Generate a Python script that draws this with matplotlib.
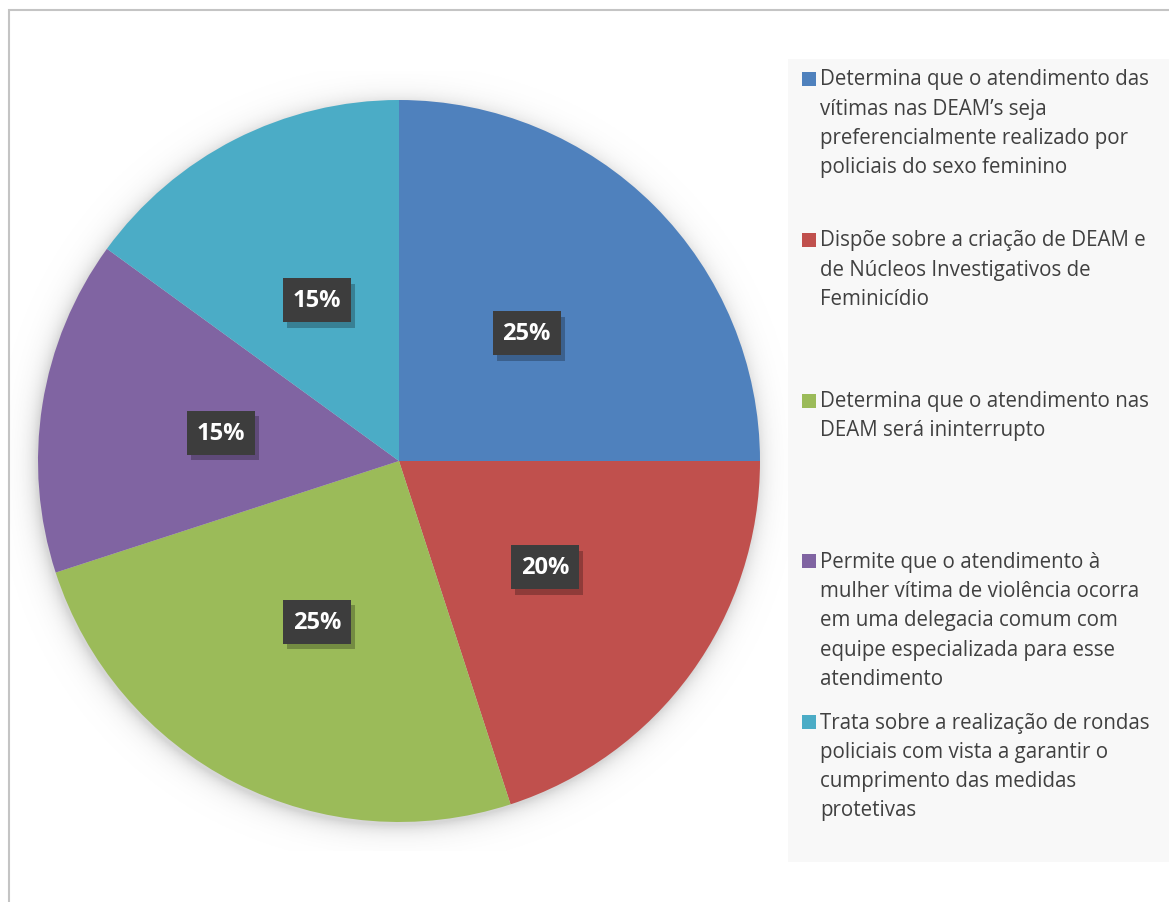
import numpy as np
import matplotlib.pyplot as plt
import matplotlib.patheffects as pe
from matplotlib.patches import Rectangle

plt.rcParams['font.family'] = ['Open Sans', 'DejaVu Sans']

labels = [
    "Determina que o atendimento das\nvítimas nas DEAM’s seja\npreferencialmente realizado por\npoliciais do sexo feminino",
    "Dispõe sobre a criação de DEAM e\nde Núcleos Investigativos de\nFeminicídio",
    "Determina que o atendimento nas\nDEAM será ininterrupto",
    "Permite que o atendimento à\nmulher vítima de violência ocorra\nem uma delegacia comum com\nequipe especializada para esse\natendimento",
    "Trata sobre a realização de rondas\npoliciais com vista a garantir o\ncumprimento das medidas\nprotetivas",
]
values = [25, 20, 25, 15, 15]
colors = ['#4F81BD', '#C0504D', '#9BBB59', '#8064A2', '#4BACC6']

W, H = 1169, 903
fig = plt.figure(figsize=(W / 100, H / 100), dpi=100)

# outer chart frame
fig.patches.append(Rectangle((8.5 / W, -0.01), 1.1, 1 - 11 / H + 0.01,
                             transform=fig.transFigure, fill=False,
                             edgecolor='#c4c4c4', linewidth=1.5))

# legend panel
fig.patches.append(Rectangle((788 / W, 1 - 863 / H), 1 - 788 / W, (863 - 60) / H,
                             transform=fig.transFigure, facecolor='#f8f8f8',
                             edgecolor='none', zorder=0))

cx, cy, R = 399, 462, 361
lim = 1.08
half = R * lim
ax = fig.add_axes([(cx - half) / W, (H - cy - half) / H, 2 * half / W, 2 * half / H])
ax.axis('off')

# soft shadow around the pie
g = np.linspace(-lim, lim, 600)
xx, yy = np.meshgrid(g, g)
rr = np.hypot(xx + 0.005, yy + 0.01)
shade = np.where(rr > 1, np.exp(-(rr - 1) / 0.025), 1.0)
rgba = np.zeros(xx.shape + (4,))
rgba[..., :3] = 0.55
rgba[..., 3] = 0.35 * shade
ax.imshow(rgba, extent=(-lim, lim, -lim, lim), origin='lower', zorder=0)

wedges, texts, autotexts = ax.pie(values, colors=colors, startangle=90, counterclock=False,
                                  radius=1, autopct='%1.0f%%', pctdistance=0.5,
                                  wedgeprops=dict(linewidth=0))
ax.set_xlim(-lim, lim)
ax.set_ylim(-lim, lim)
ax.set_aspect('equal')
for w in wedges:
    w.set_zorder(1)
for t in autotexts:
    t.set_color('white')
    t.set_fontsize(17)
    t.set_fontweight('bold')
    t.set_zorder(3)
    t.set_bbox(dict(boxstyle='square,pad=0.42', facecolor='#3d3d3d', edgecolor='none'))
    t.get_bbox_patch().set_path_effects([
        pe.SimplePatchShadow(offset=(3, -4), shadow_rgbFace='black', alpha=0.25),
        pe.Normal()])

# legend entries
top0, step, pitch = 80, 160.75, 29.3
for i, (lab, c) in enumerate(zip(labels, colors)):
    y0 = top0 + i * step
    fig.patches.append(Rectangle((802 / W, 1 - (y0 + 7) / H), 14 / W, 14 / H,
                                 transform=fig.transFigure, facecolor=c,
                                 edgecolor='none', zorder=2))
    for j, line in enumerate(lab.split('\n')):
        fig.text(820 / W, 1 - (y0 + j * pitch) / H, line, fontsize=14.8,
                 color='#404040', va='center', ha='left')

fig.savefig('out.png', dpi=100)
